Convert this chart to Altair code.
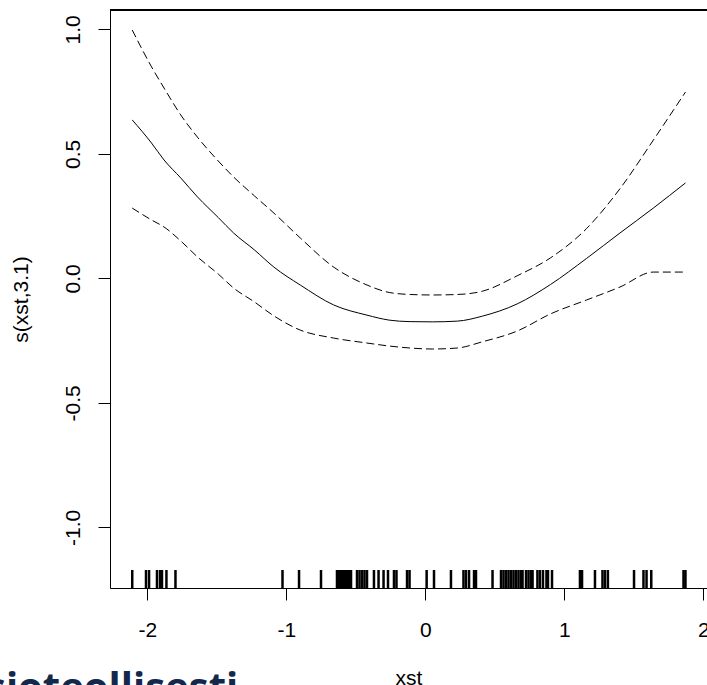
import altair as alt
import pandas as pd

# Smooth term s(xst, 3.1): evaluation grid, fitted curve and +/- 2 SE bands
grid_x = [-2.109, -1.97, -1.88, -1.76, -1.64, -1.49, -1.38, -1.23, -1.09, -0.90,
          -0.66, -0.42, -0.26, -0.11, 0.05, 0.23, 0.41, 0.66, 0.90, 1.16,
          1.40, 1.64, 1.871]
fit = [0.636, 0.543, 0.475, 0.403, 0.327, 0.244, 0.182, 0.114, 0.045, -0.027,
       -0.107, -0.148, -0.168, -0.174, -0.175, -0.172, -0.152, -0.103, -0.025, 0.080,
       0.182, 0.282, 0.383]
upper = [0.997, 0.849, 0.764, 0.656, 0.567, 0.471, 0.407, 0.331, 0.262, 0.162,
         0.045, -0.027, -0.057, -0.065, -0.067, -0.065, -0.052, 0.010, 0.082, 0.200,
         0.360, 0.555, 0.748]
lower = [0.282, 0.234, 0.206, 0.150, 0.086, 0.017, -0.039, -0.095, -0.151, -0.208,
         -0.240, -0.260, -0.272, -0.280, -0.284, -0.280, -0.255, -0.212, -0.143, -0.087,
         -0.035, 0.025, 0.025]

# Observed covariate values (rug)
rug_x = [-2.109, -2.010, -1.988, -1.931, -1.909, -1.895, -1.863, -1.798,
         -1.028, -0.909, -0.751, -0.636, -0.622, -0.607, -0.593, -0.578, -0.564,
         -0.550, -0.535, -0.492, -0.474, -0.456, -0.438, -0.420, -0.370, -0.337,
         -0.301, -0.269, -0.226, -0.208, -0.132, -0.114, 0.009, 0.062, 0.184,
         0.274, 0.292, 0.314, 0.350, 0.364, 0.483, 0.544, 0.562, 0.580, 0.598,
         0.616, 0.634, 0.652, 0.670, 0.688, 0.699, 0.724, 0.742, 0.760, 0.771,
         0.806, 0.824, 0.846, 0.871, 0.882, 0.911, 1.112, 1.127, 1.220, 1.274,
         1.292, 1.313, 1.501, 1.569, 1.591, 1.625, 1.857, 1.871]

x_ticks = [-2, -1, 0, 1, 2]
y_ticks = [-1.0, -0.5, 0.0, 0.5, 1.0]

FONT = "Liberation Sans"
FS = 21
W, H = 597, 578

curves = pd.DataFrame({"x": grid_x, "fit": fit, "upper": upper, "lower": lower})
rug = pd.DataFrame({"x": rug_x})

x_scale = alt.Scale(domain=[-2.269, 2.026], nice=False, zero=False)
y_scale = alt.Scale(domain=[-1.2438, 1.0775], nice=False, zero=False)

x_axis = alt.Axis(
    values=x_ticks, labelExpr="toString(datum.value)", grid=False,
    tickSize=12, tickColor="black", domainColor="black",
    labelFont=FONT, labelFontSize=FS, labelColor="black", labelPadding=19,
    titleFont=FONT, titleFontSize=FS, titleFontWeight="normal", titleColor="black",
    titleBaseline="alphabetic", titleY=96,
)
y_axis = alt.Axis(
    values=y_ticks,
    labelExpr="datum.value < 0 ? '-' + format(-datum.value, '.1f') : format(datum.value, '.1f')",
    grid=False, tickSize=12, tickColor="black", domainColor="black",
    labelFont=FONT, labelFontSize=FS, labelColor="black", labelPadding=19,
    labelAngle=270, labelAlign="center", labelBaseline="alphabetic",
    titleFont=FONT, titleFontSize=FS, titleFontWeight="normal", titleColor="black",
    titleX=-89, titleY=H / 2, titleAngle=270, titleAlign="center", titleBaseline="middle",
)

X = alt.X("x:Q", scale=x_scale, axis=x_axis, title="xst")

fit_line = alt.Chart(curves).mark_line(color="black", strokeWidth=1, interpolate="monotone").encode(
    x=X, y=alt.Y("fit:Q", scale=y_scale, axis=y_axis, title="s(xst,3.1)")
)
upper_line = alt.Chart(curves).mark_line(
    color="black", strokeWidth=1, strokeDash=[8, 4], interpolate="monotone"
).encode(x=X, y=alt.Y("upper:Q", scale=y_scale, axis=y_axis, title="s(xst,3.1)"))
lower_line = alt.Chart(curves).mark_line(
    color="black", strokeWidth=1, strokeDash=[8, 4], interpolate="monotone"
).encode(x=X, y=alt.Y("lower:Q", scale=y_scale, axis=y_axis, title="s(xst,3.1)"))

rug_marks = alt.Chart(rug).mark_rule(color="black", strokeWidth=2.5).encode(
    x=X, y=alt.value(H - 18), y2=alt.value(H)
)

# top edge of the plot box
top_edge = alt.Chart(rug).mark_rule(color="black", strokeWidth=1).encode(
    x=alt.value(0), x2=alt.value(W), y=alt.value(0)
)

caption = alt.Chart(pd.DataFrame({"t": ["sioteollisesti"]})).mark_text(
    font="Open Sans", fontWeight="bold", fontSize=40, color="#14284b",
    align="left", baseline="alphabetic"
).encode(x=alt.value(-124), y=alt.value(691), text="t:N")

chart = alt.layer(fit_line, upper_line, lower_line, rug_marks, top_edge, caption).properties(
    width=W, height=H,
    autosize=alt.AutoSizeParams(type="none"),
    padding={"left": 110, "top": 10, "right": 0, "bottom": 97},
).configure_view(stroke=None).configure(background="white")

chart.save("out.html", embed_options={"renderer": "svg", "actions": False})
